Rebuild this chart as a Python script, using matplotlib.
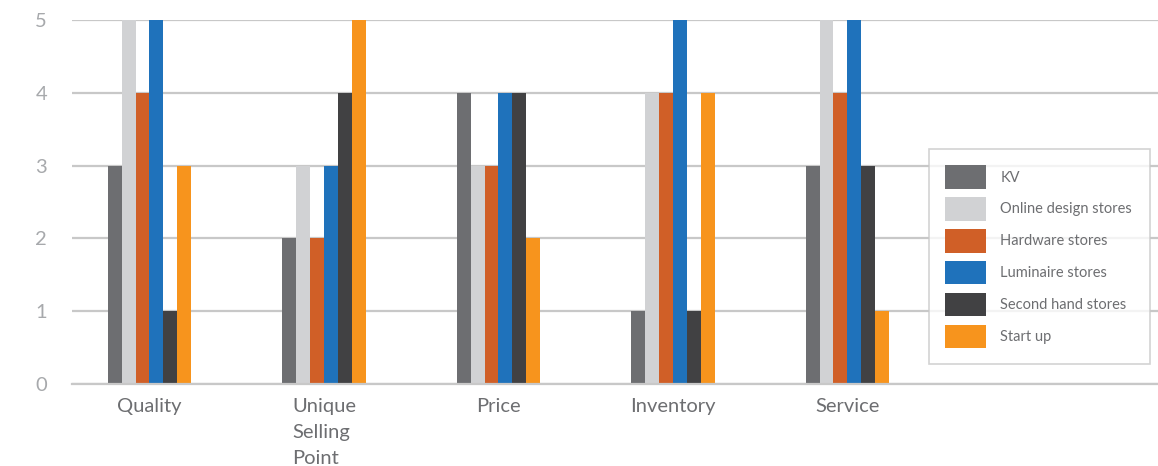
import numpy as np
import matplotlib
matplotlib.use("Agg")
from matplotlib import pyplot as plt

# categories and series
categories = ["Quality", "Unique\nSelling\nPoint", "Price", "Inventory", "Service"]
series = ["KV", "Online design stores", "Hardware stores", "Luminaire stores",
          "Second hand stores", "Start up"]
kv = [3, 2, 4, 1, 3]
online = [5, 3, 3, 4, 5]
hardware = [4, 2, 3, 4, 4]
luminaire = [5, 3, 4, 5, 5]
second_hand = [1, 4, 4, 1, 3]
start_up = [3, 5, 2, 4, 1]
yticks = [0, 1, 2, 3, 4, 5]

colors = ["#6d6e71", "#d1d2d4", "#d05f27", "#1f72bb", "#414143", "#f7941d"]
values = [kv, online, hardware, luminaire, second_hand, start_up]

plt.rcParams['font.family'] = ['Lato', 'DejaVu Sans']

fig = plt.figure(figsize=(11.58, 4.66), dpi=100)
ax = fig.add_axes([0.0622, 0.176, 0.9378, 0.781])

x = np.arange(len(categories))
w = 0.08
for i, (name, vals) in enumerate(zip(series, values)):
    ax.bar(x + (i - 2.5) * w, vals, w, color=colors[i], label=name, zorder=3)

ax.set_ylim(0, 5)
ax.set_xlim(-0.444, 5.78)
ax.set_yticks(yticks)
ax.yaxis.grid(True, color="#c8c8c8", linewidth=1.6, zorder=0)
for s in ["top", "right", "left"]:
    ax.spines[s].set_visible(False)
ax.spines["bottom"].set_color("#c8c8c8")
ax.spines["bottom"].set_linewidth(1.6)
ax.spines["bottom"].set_zorder(4)

ax.set_xticks(x)
ax.set_xticklabels(categories, multialignment="left", linespacing=1.65)
ax.tick_params(axis="x", length=0, pad=10, labelsize=14.5, labelcolor="#6d6e71")
ax.tick_params(axis="y", length=0, pad=18, labelsize=14.5, labelcolor="#a7a9ac")

leg = ax.legend(loc="lower left", bbox_to_anchor=(0.802, 0.218, 0.191, 0.457),
                bbox_transform=fig.transFigure, mode="expand",
                fontsize=10.5, frameon=True, fancybox=False, borderpad=1.1,
                handlelength=2.8, handleheight=2.1, labelspacing=0.58,
                handletextpad=1.0, borderaxespad=0)
leg.get_frame().set_edgecolor("#c8c8c8")
leg.get_frame().set_linewidth(1.2)
for t in leg.get_texts():
    t.set_color("#6d6e71")

fig.savefig("out.png", dpi=100)
